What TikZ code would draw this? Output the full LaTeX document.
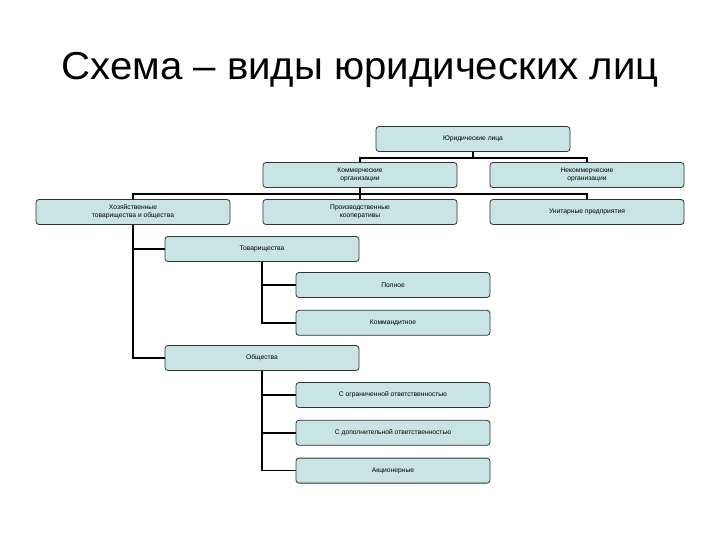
\documentclass[tikz,border=0pt]{standalone}
\usepackage{fontspec}
\setmainfont{Liberation Sans}
\usepackage{tikz}
\usetikzlibrary{positioning}

\definecolor{boxfill}{HTML}{C8E4E4}
\definecolor{boxdraw}{HTML}{333333}

\begin{document}
\begin{tikzpicture}[x=1pt, y=-1pt, unit/.style={rectangle, draw=boxdraw, fill=boxfill, line width=0.8pt, minimum width=194pt, minimum height=25pt, inner sep=1pt, rounded corners=3pt, align=center, font=\fontsize{6.7}{7.7}\selectfont}, link/.style={line width=1.6pt, black}]

    \useasboundingbox (0,0) rectangle (720,540);
    \fill[white] (0,0) rectangle (720,540);

    % Title
    \node[anchor=base, xscale=1.03, font=\fontsize{39}{42}\selectfont] (title) at (360,80) {Схема – виды юридических лиц};

    % Nodes
    \node[unit] (jur)    at (473,139) {Юридические лица};
    \node[unit] (kom)    at (360,175) {Коммерческие\\организации};
    \node[unit] (nekom)  at (587,175) {Некоммерческие\\организации};
    \node[unit] (hoz)    at (133,212) {Хозяйственные\\товарищества и общества};
    \node[unit] (proizv) at (360,212) {Производственные\\кооперативы};
    \node[unit] (unit)   at (587,212) {Унитарные предприятия};
    \node[unit] (tov)    at (262,249) {Товарищества};
    \node[unit] (poln)   at (393,285) {Полное};
    \node[unit] (komand) [below=12pt of poln] {Коммандитное};
    \node[unit] (obsh)   at (262,358) {Общества};
    \node[unit] (ooo)    at (393,395) {С ограниченной ответственностью};
    \node[unit] (odo)    [below=12pt of ooo] {С дополнительной ответственностью};
    \node[unit] (ao)     [below=12pt of odo] {Акционерные};

    % Lines ---------------
    \draw[link] (jur.south) -- ++(0,6) -| (kom.north);
    \draw[link] (jur.south) -- ++(0,6) -| (nekom.north);
    \draw[link] (kom.south) -- ++(0,6) -| (hoz.north);
    \draw[link] (kom.south) -- ++(0,6) -| (proizv.north);
    \draw[link] (kom.south) -- ++(0,6) -| (unit.north);
    \draw[link] (hoz.south) |- (tov.west);
    \draw[link] (hoz.south) |- (obsh.west);
    \draw[link] (tov.south) |- (poln.west);
    \draw[link] (tov.south) |- (komand.west);
    \draw[link] (obsh.south) |- (ooo.west);
    \draw[link] (obsh.south) |- (odo.west);
    \draw[link] (obsh.south) |- (ao.west);

\end{tikzpicture}
\end{document}
